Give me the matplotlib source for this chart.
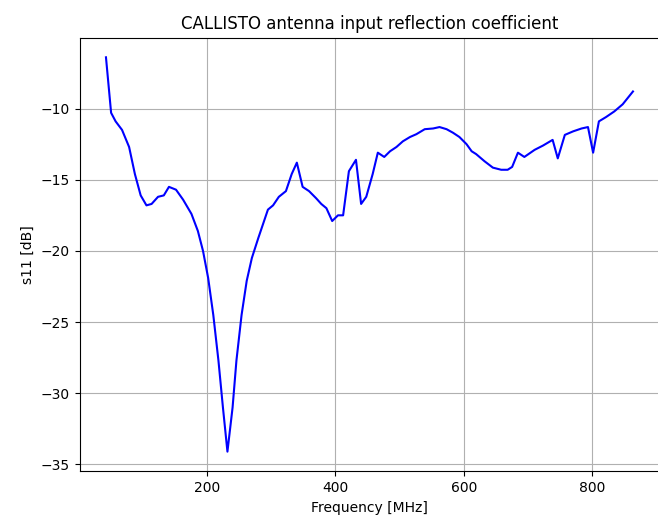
import numpy as np
import matplotlib
matplotlib.use('Agg')
import matplotlib.pyplot as plt

freq_mhz = [43, 51, 58, 68, 79, 88, 97, 106, 114, 124, 133, 141, 152, 163,
            176, 186, 194, 202, 210, 218, 225, 232, 240, 246, 254, 262, 270,
            280, 295, 303, 312, 323, 332, 340, 349, 359, 370, 378, 386, 395,
            404, 412, 421, 432, 440, 448, 458, 466, 476, 485, 495, 505, 516,
            526, 539, 552, 562, 573, 583, 593, 604, 612, 619, 632, 645, 658,
            668, 675, 684, 694, 710, 723, 738, 746, 757, 770, 783, 793, 801,
            810, 821, 834, 847, 863]
s11_db = [-6.4, -10.3, -10.9, -11.5, -12.7, -14.6, -16.1, -16.8, -16.7, -16.2,
          -16.1, -15.5, -15.7, -16.4, -17.4, -18.6, -20.0, -21.9, -24.5, -27.7,
          -31.0, -34.1, -31.0, -27.7, -24.5, -22.1, -20.5, -19.1, -17.1, -16.8,
          -16.2, -15.8, -14.6, -13.8, -15.5, -15.8, -16.3, -16.7, -17.0, -17.9,
          -17.5, -17.5, -14.4, -13.6, -16.7, -16.2, -14.6, -13.1, -13.4, -13.0,
          -12.7, -12.3, -12.0, -11.8, -11.45, -11.4, -11.3, -11.45, -11.7, -12.0,
          -12.5, -13.0, -13.2, -13.7, -14.15, -14.3, -14.3, -14.1, -13.1, -13.4,
          -12.9, -12.6, -12.2, -13.5, -11.85, -11.6, -11.4, -11.3, -13.1,
          -10.9, -10.6, -10.2, -9.7, -8.8]

fig = plt.figure(figsize=(6.58, 5.22), dpi=100)
# axes run slightly past the right edge, like the cropped original
ax = fig.add_axes([0.121, 0.097, 0.881, 0.831])
ax.plot(freq_mhz, s11_db, color='b')
ax.grid(True)
ax.set_title('CALLISTO antenna input reflection coefficient')
ax.set_xlabel('Frequency [MHz]')
ax.set_ylabel('s11 [dB]')

fig.savefig('out.png', dpi=100)
